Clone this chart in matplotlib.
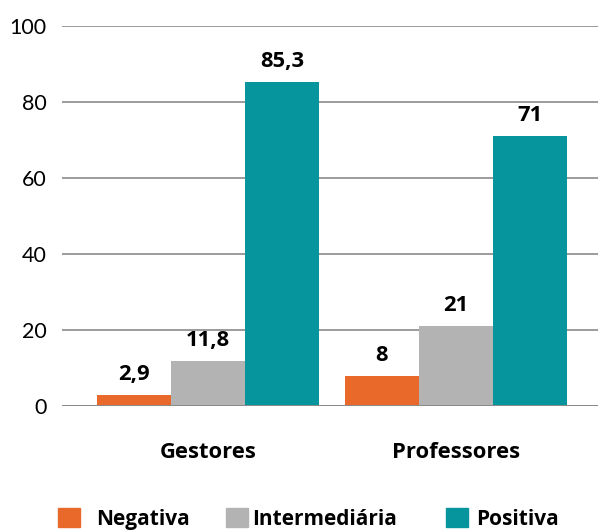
import numpy as np
import matplotlib.pyplot as plt
from matplotlib.patches import Patch

# survey answers (%) per group
groups = ["Gestores", "Professores"]
series = ["Negativa", "Intermediária", "Positiva"]
negativa = [2.9, 8]
intermediaria = [11.8, 21]
positiva = [85.3, 71]
value_labels = [["2,9", "8"], ["11,8", "21"], ["85,3", "71"]]

colors = ["#E8692A", "#B3B3B3", "#06959D"]

plt.rcParams['font.family'] = ['Lato', 'DejaVu Sans']
bold = {'family': ['Open Sans', 'DejaVu Sans'], 'weight': 'bold', 'size': 15.8}
legend_font = dict(bold, size=15)

fig = plt.figure(figsize=(5.98, 5.30), dpi=100)
ax = fig.add_axes([62 / 598, 1 - 406 / 530, 1 - 62 / 598, 380 / 530])

x = np.arange(len(groups))
width = 74 / 248
for i, (vals, col, labs) in enumerate(zip([negativa, intermediaria, positiva], colors, value_labels)):
    bars = ax.bar(x + (i - 1) * width, vals, width, color=col, zorder=3)
    ax.bar_label(bars, labels=labs, padding=7, fontproperties=bold)

ax.set_ylim(0, 100)
ax.set_xlim((62 - 208) / 248, (598 - 208) / 248)
ax.set_yticks(range(0, 101, 20))
ax.yaxis.grid(True, color='#8a8a8a', linewidth=1.2, zorder=0)
ax.set_axisbelow(True)
ax.axhline(0, color='#8a8a8a', linewidth=1.4, zorder=4)
for s in ax.spines.values():
    s.set_visible(False)
ax.tick_params(axis='y', length=0, pad=11, labelsize=15.5)
ax.set_xticks(x)
ax.set_xticklabels(groups, fontproperties=bold)
ax.tick_params(axis='x', length=0, pad=26)

# legend entries are spaced individually
leg_x = [58 / 598, 226 / 598, 446 / 598]
pads = [0.8, 0.2, 0.4]
for name, col, lx, pad in zip(series, colors, leg_x, pads):
    fig.legend(handles=[Patch(color=col)], labels=[name], loc='center left',
               bbox_to_anchor=(lx, 1 - 519 / 530), frameon=False,
               handlelength=1.05, handleheight=1.05, handletextpad=pad,
               borderaxespad=0, borderpad=0, prop=legend_font)

fig.savefig("out.png", dpi=100)
